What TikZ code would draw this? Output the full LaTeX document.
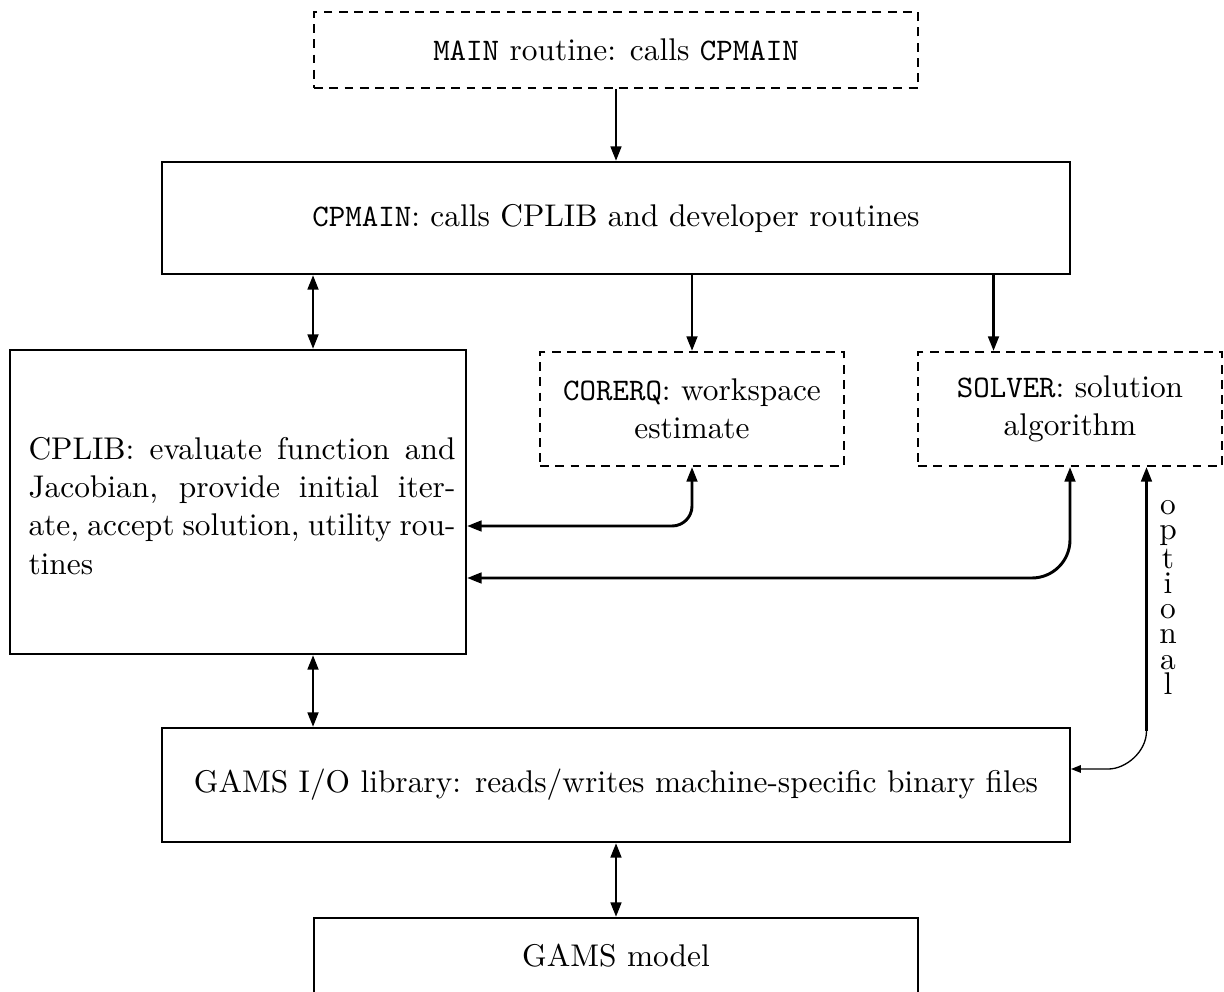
\documentclass[tikz,border=0pt]{standalone}
\usetikzlibrary{arrows.meta,calc}
\begin{document}
\begin{tikzpicture}[x=0.341pt,y=-0.341pt,
  font=\fontsize{10.7}{13}\selectfont,
  box/.style={draw,line width=0.68pt,inner sep=0pt,align=center},
  dbox/.style={box,dash pattern=on 3pt off 2.2pt},
  link/.style={line width=1pt},
  tip/.style={-{Triangle[length=5pt,width=3.6pt]}},
  dtip/.style={{Triangle[length=5pt,width=3.6pt]}-{Triangle[length=5pt,width=3.6pt]}},
  thinlink/.style={line width=0.45pt,-{Triangle[length=3.4pt,width=2.6pt]}}]
\clip (0,0) rectangle (1224,992);
% boxes
\node[dbox,minimum width=205.96pt,minimum height=25.92pt] (main) at (616,50)
  {\texttt{MAIN} routine: calls \texttt{CPMAIN}};
\node[box,minimum width=309.63pt,minimum height=38.19pt] (cpmain) at (616,218)
  {\texttt{CPMAIN}: calls CPLIB and developer routines};
\node[box,minimum width=155.5pt,minimum height=103.66pt] (cplib) at (238,502) {};
\node[inner sep=0pt,text width=145.6pt,align=justify] (cpliblabel) at (242,506)
  {CPLIB: evaluate function and\linebreak Jacobian, provide initial iter-\linebreak ate, accept solution, utility rou-\linebreak tines};
\node[dbox,minimum width=103.66pt,minimum height=38.87pt] (corerq) at (692,409)
  {\texttt{CORERQ}: workspace\\estimate};
\node[dbox,minimum width=103.66pt,minimum height=38.87pt] (solver) at (1070,409)
  {\texttt{SOLVER}: solution\\algorithm};
\node[box,minimum width=309.63pt,minimum height=38.87pt] (gamsio) at (616,785)
  {GAMS I/O library: reads/writes machine-specific binary files};
\node[box,minimum width=205.96pt,minimum height=25.92pt] (model) at (616,956)
  {GAMS model};
% connectors
\draw[link,tip] (main.south) -- (cpmain.north);
\draw[link,dtip] (cpmain.south -| main.west) -- (cplib.north -| main.west);
\draw[link,tip] (cpmain.south -| corerq.north) -- (corerq.north);
\coordinate (sq) at ($(solver.north west)!0.25!(solver.north east)$);
\draw[link,tip] (cpmain.south -| sq) -- (sq);
\draw[link,dtip,rounded corners=6.8pt] (corerq.south) |- ($(cplib.east)+(0,24)$);
\draw[link,dtip,rounded corners=13pt] (solver.south) |- ($(cplib.east)+(0,76)$);
\coordinate (so) at ($(solver.south west)!0.75!(solver.south east)$);
\coordinate (ob) at ($(so)+(0,264)$);
\coordinate (oc) at ($(ob)+(-38,38)$);
\draw[link,tip] (ob) -- (so);
\draw[thinlink] (ob) .. controls ($(ob)+(0,21)$) and ($(oc)+(17,0)$) .. (oc) -- (gamsio.east |- oc);
\node[font=\fontsize{10.7}{8.6}\selectfont,align=center,inner sep=0pt,anchor=north] (opt) at (1168,500)
  {o\\p\\t\\i\\o\\n\\a\\l};
\draw[link,dtip] (cplib.south -| main.west) -- (gamsio.north -| main.west);
\draw[link,dtip] (gamsio.south) -- (model.north);
\end{tikzpicture}
\end{document}
